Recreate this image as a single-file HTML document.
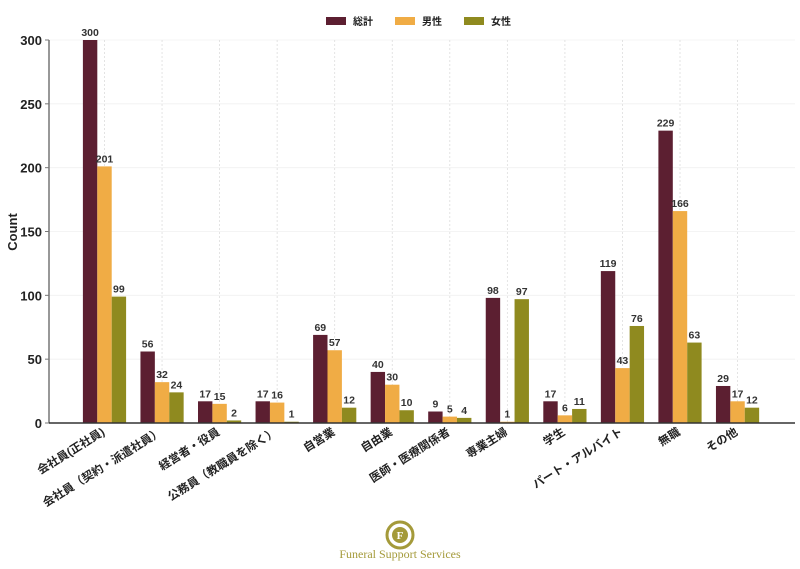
<!DOCTYPE html>
<html><head><meta charset="utf-8"><style>
body{margin:0;background:#fff;}
svg{display:block;font-family:"Liberation Sans","Noto Sans CJK JP",sans-serif;}
</style></head><body>
<svg width="800" height="569" viewBox="0 0 800 569" xmlns="http://www.w3.org/2000/svg">
<g id="grid" stroke="#ddd" stroke-width="0.8" stroke-dasharray="2,2"></g>
<g id="bars"></g>
<line x1="49" y1="40" x2="49" y2="423" stroke="#777" stroke-width="1.5"/>
<line x1="49" y1="423" x2="795" y2="423" stroke="#333" stroke-width="1.5"/>
<g id="yt" font-size="13" font-weight="bold" fill="#222" text-anchor="end"></g>
<text transform="translate(17,232) rotate(-90)" font-size="13" font-weight="bold" text-anchor="middle" fill="#222">Count</text>
<g font-size="10" font-weight="bold" fill="#222">
<rect x="326" y="17" width="20" height="8" fill="#5c1f31"/><text x="353" y="25">総計</text>
<rect x="395" y="17" width="20" height="8" fill="#f0ac45"/><text x="422" y="25">男性</text>
<rect x="464" y="17" width="20" height="8" fill="#8f8a1f"/><text x="491" y="25">女性</text>
</g>
<g transform="translate(400,535)">
<circle r="13" fill="none" stroke="#a49a3a" stroke-width="3"/>
<circle r="8" fill="#a49a3a"/>
<text y="4" font-size="11" text-anchor="middle" fill="#fff" font-family="Liberation Serif,serif" font-weight="bold">F</text>
</g>
<text x="400" y="558" font-size="12" text-anchor="middle" fill="#a49a3a" font-family="Liberation Serif,serif">Funeral Support Services</text>
</svg>
<script>
const d=[["会社員(正社員)",300,201,99],["会社員（契約・派遣社員）",56,32,24],["経営者・役員",17,15,2],["公務員（教職員を除く）",17,16,1],["自営業",69,57,12],["自由業",40,30,10],["医師・医療関係者",9,5,4],["専業主婦",98,1,97],["学生",17,6,11],["パート・アルバイト",119,43,76],["無職",229,166,63],["その他",29,17,12]];
const cols=["#5c1f31","#f0ac45","#8f8a1f"];
const ns="http://www.w3.org/2000/svg";
const Y=v=>423-v*383/300;
function el(p,t,a,txt){const e=document.createElementNS(ns,t);for(const k in a)e.setAttribute(k,a[k]);if(txt!=null)e.textContent=txt;document.getElementById(p).appendChild(e);return e;}
for(let v=0;v<=300;v+=50){el("grid","line",{x1:49,x2:795,y1:Y(v),y2:Y(v),"stroke-dasharray":"none","stroke":"#f0f0f0"});el("yt","text",{x:42,y:Y(v)+5},v);el("yt","line",{x1:45,x2:49,y1:Y(v),y2:Y(v),stroke:"#777"});}
d.forEach((r,i)=>{const c=104.5+i*57.55;el("grid","line",{x1:c,x2:c,y1:40,y2:423});
for(let j=0;j<3;j++){const x=c-21.6+j*14.4;el("bars","rect",{x:x,y:Y(r[j+1]),width:14.4,height:r[j+1]*383/300,fill:cols[j]});
el("bars","text",{x:x+7.2,y:Y(r[j+1])-4,"font-size":"10.5","font-weight":"bold","text-anchor":"middle",fill:"#333"},r[j+1]);}
el("bars","text",{transform:`translate(${c+1},434) rotate(-32)`,"font-size":"11.5","font-weight":"bold","text-anchor":"end",fill:"#222"},r[0]);});
</script>
</body></html>
